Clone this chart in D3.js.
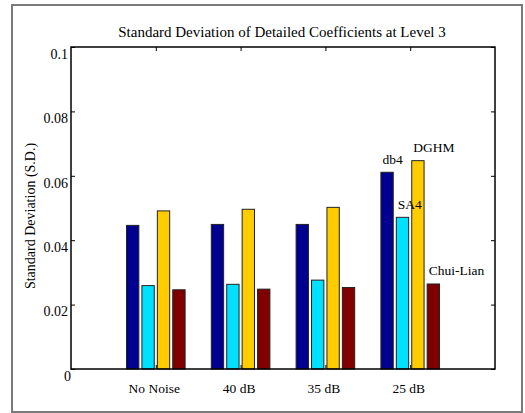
<!DOCTYPE html>
<html>
<head>
<meta charset="utf-8">
<script src="https://cdn.jsdelivr.net/npm/d3@7"></script>
<style>
  html, body { margin: 0; padding: 0; background: #fff; }
  svg { display: block; }
  text { font-family: "Liberation Serif", "Times New Roman", serif; fill: #000; }
</style>
</head>
<body>
<svg id="chart" width="525" height="413"></svg>
<script>
// Noise conditions along the x axis
const categories = ["No Noise", "40 dB", "35 dB", "25 dB"];
// Wavelet / multiwavelet families, one bar each per condition
const seriesNames = ["db4", "SA4", "DGHM", "Chui-Lian"];
const db4      = [0.0446, 0.0449, 0.0449, 0.0611];
const sa4      = [0.0259, 0.0263, 0.0276, 0.0471];
const dghm     = [0.0491, 0.0496, 0.0502, 0.0647];
const chuiLian = [0.0246, 0.0248, 0.0253, 0.0264];
const yTicks = [0, 0.02, 0.04, 0.06, 0.08, 0.1];

const seriesValues = [db4, sa4, dghm, chuiLian];
const colors = ["#000090", "#00E0FF", "#FFCC00", "#800000"];

const svg = d3.select("#chart");
const plot = { left: 71, top: 47, right: 495, bottom: 369 };

// outer figure border
svg.append("rect")
  .attr("x", 12).attr("y", 5).attr("width", 510).attr("height", 407)
  .attr("fill", "#fff").attr("stroke", "#7a7a7a").attr("stroke-width", 2);

const x = d3.scaleLinear().domain([0, categories.length + 1]).range([plot.left, plot.right]);
const y = d3.scaleLinear().domain([0, 0.1]).range([plot.bottom, plot.top]);

// grouped bar geometry in data units (groups centred on 1..n)
const nS = seriesNames.length;
const groupW = Math.min(0.8, nS / (nS + 1.5));
const slot = groupW / nS;
const barW = slot * 0.8;
const barCenter = (gi, si) => (gi + 1) + (si - (nS - 1) / 2) * slot;

const rows = [];
seriesValues.forEach((vals, si) => vals.forEach((v, gi) => rows.push({ si, gi, v })));

svg.append("g").selectAll("rect").data(rows).join("rect")
  .attr("x", d => x(barCenter(d.gi, d.si) - barW / 2))
  .attr("width", d => x(barW) - x(0))
  .attr("y", d => y(d.v))
  .attr("height", d => y(0) - y(d.v))
  .attr("fill", d => colors[d.si])
  .attr("stroke", "#222").attr("stroke-width", 1);

// axes with inward ticks on all four sides
const tickStyle = g => {
  g.select(".domain").remove();
  g.selectAll(".tick line").attr("stroke", "#000").attr("stroke-width", 1);
};

svg.append("g").attr("transform", `translate(${plot.left},0)`)
  .call(d3.axisLeft(y).tickValues(yTicks).tickSize(-4).tickPadding(3).tickFormat(d3.format("~g")))
  .call(tickStyle)
  .call(g => g.selectAll(".tick text")
    .attr("font-size", 14).attr("font-family", "Liberation Serif")
    .attr("dy", "0.8em")
    .attr("dx", d => d === 0 ? 3 : 0));

svg.append("g").attr("transform", `translate(${plot.right},0)`)
  .call(d3.axisRight(y).tickValues(yTicks).tickSize(-4).tickFormat(""))
  .call(tickStyle);

svg.append("g").attr("transform", `translate(0,${plot.bottom})`)
  .call(d3.axisBottom(x).tickValues(d3.range(1, categories.length + 1)).tickSize(-4)
    .tickFormat(i => categories[i - 1]))
  .call(tickStyle)
  .call(g => g.selectAll(".tick text")
    .attr("font-size", 13.5).attr("font-family", "Liberation Serif")
    .attr("y", 24).attr("dy", null).attr("dx", -2));

svg.append("g").attr("transform", `translate(0,${plot.top})`)
  .call(d3.axisTop(x).tickValues(d3.range(1, categories.length + 1)).tickSize(-4).tickFormat(""))
  .call(tickStyle);

// plot frame
svg.append("rect")
  .attr("x", plot.left).attr("y", plot.top)
  .attr("width", plot.right - plot.left).attr("height", plot.bottom - plot.top)
  .attr("fill", "none").attr("stroke", "#000").attr("stroke-width", 1.5);

// series names written above the bars of the last group
const last = categories.length - 1;
svg.append("g").selectAll("text").data(seriesNames).join("text")
  .attr("x", (d, si) => x(barCenter(last, si) - barW / 2) + 1.5)
  .attr("y", (d, si) => y(seriesValues[si][last]) - 8.5)
  .attr("font-size", 13.5)
  .text(d => d);

// title
svg.append("text")
  .attr("x", (plot.left + plot.right) / 2 - 1).attr("y", 37)
  .attr("text-anchor", "middle").attr("font-size", 15)
  .text("Standard Deviation of Detailed Coefficients at Level 3");

// y axis title
svg.append("text")
  .attr("transform", "translate(35,216) rotate(-90)")
  .attr("text-anchor", "middle").attr("font-size", 14)
  .text("Standard Deviation (S.D.)");
</script>
</body>
</html>
